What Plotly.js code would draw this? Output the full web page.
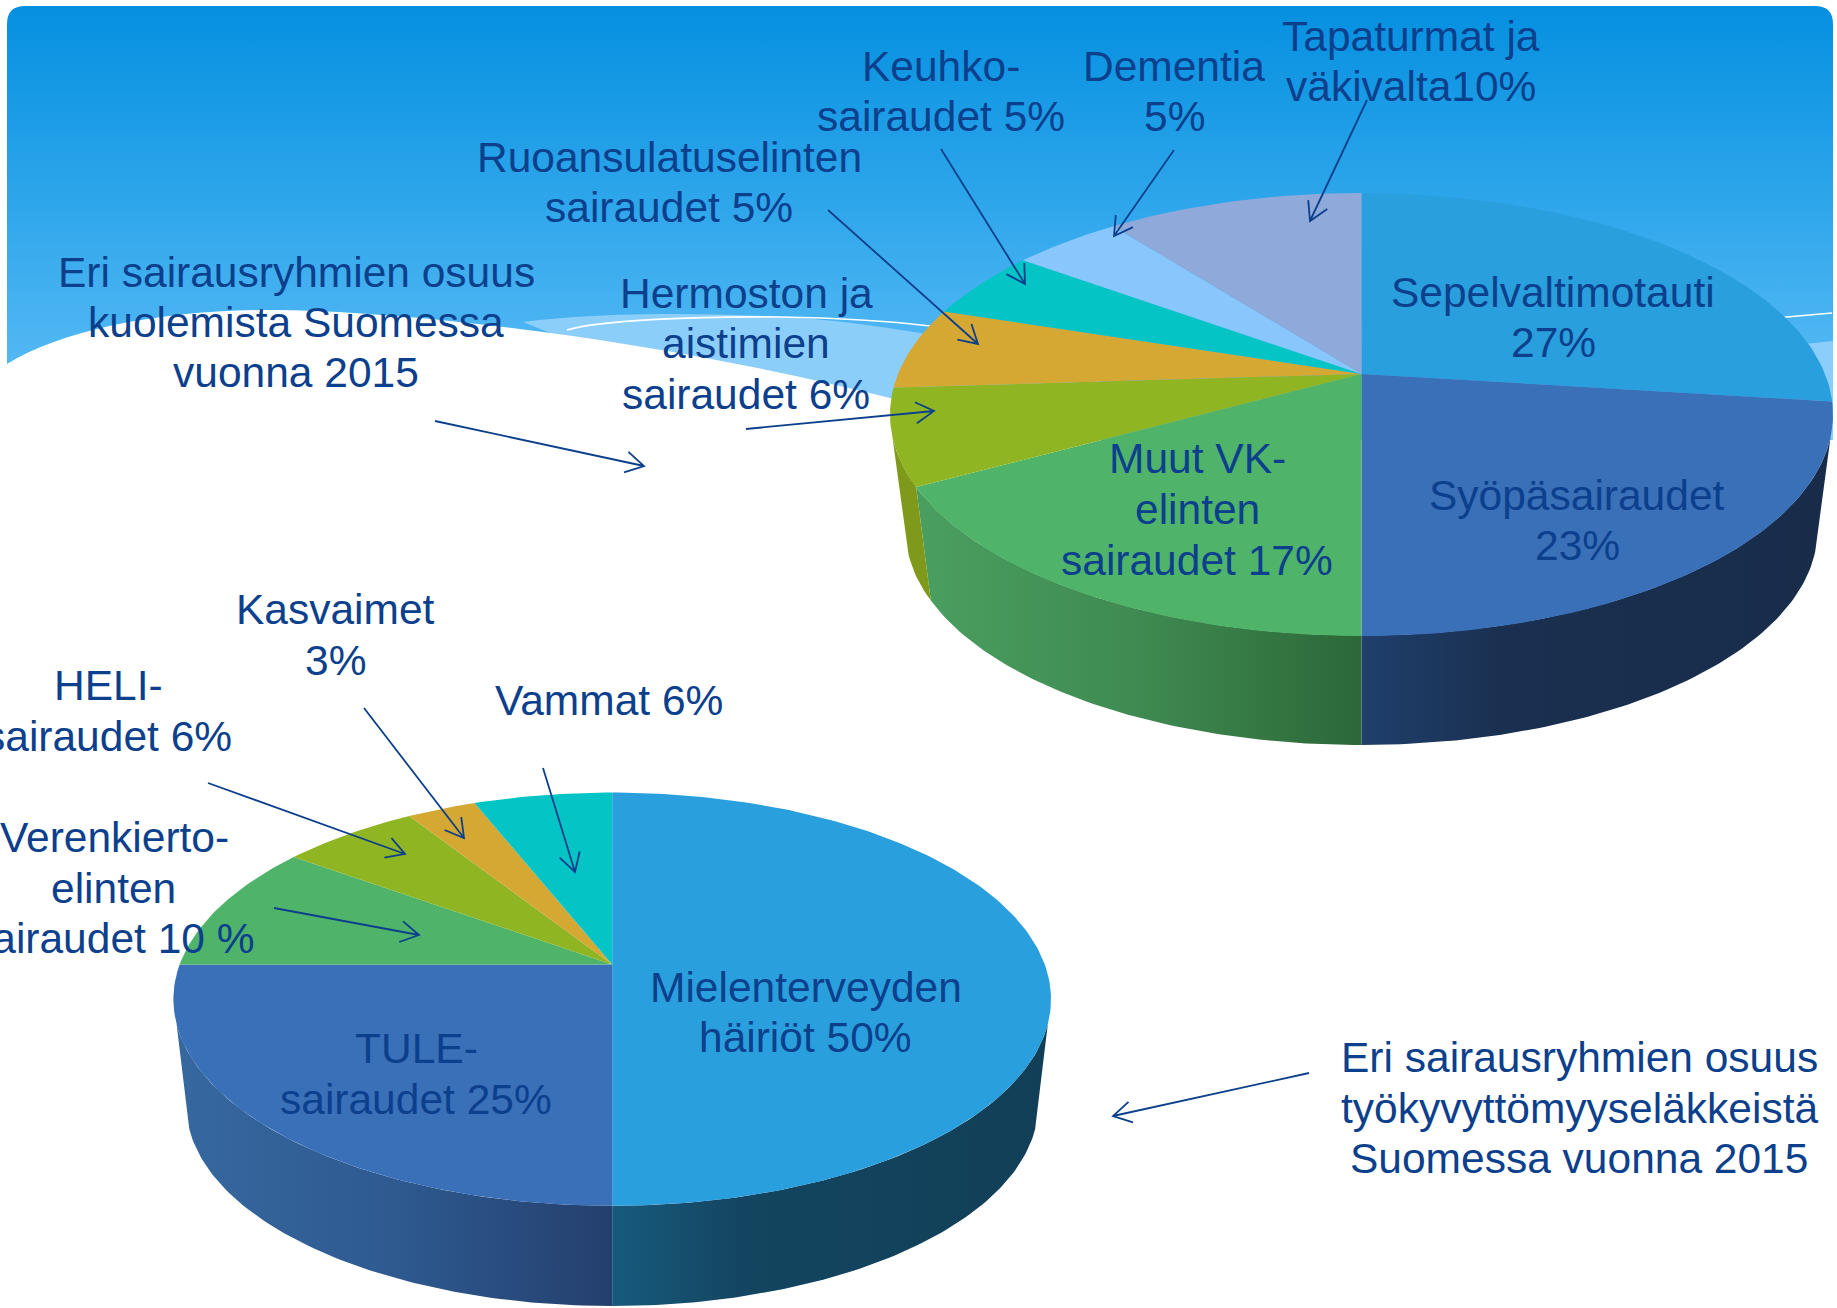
<!DOCTYPE html>
<html><head><meta charset="utf-8">
<script src="https://cdn.plot.ly/plotly-3.0.1.min.js"></script>
<style>html,body{margin:0;padding:0;background:#fff}#chart{width:1837px;height:1308px}</style>
</head><body><div id="chart"></div>
<script>
// ---- data (share of each slice, clockwise from 12 o'clock) ----
const deathCategories = ["Sepelvaltimotauti","Syöpäsairaudet","Muut VK-elinten sairaudet","Hermoston ja aistimien sairaudet","Ruoansulatuselinten sairaudet","Keuhkosairaudet","Dementia","Tapaturmat ja väkivalta"];
const deathValues = [27,23,17,7,6,5,4.5,10.5];
const deathTop = ["#2a9fdd","#3a70b8","#4fb46a","#8fb522","#d5a733","#04c4c5","#88c6fb","#8ea9da"];
const deathWall = [null,["#1f3f6c","#1a3050","#182c4a"],["#4a9f60","#3f8a52","#2c6838"],["#7f9a1a","#7f9a1a","#7f9a1a"],null,null,null,null];

const pensionCategories = ["Mielenterveyden häiriöt","TULE-sairaudet","Verenkiertoelinten sairaudet","HELI-sairaudet","Kasvaimet","Vammat"];
const pensionValues = [50,25,10,6,3,6];
const pensionTop = ["#2a9fdd","#3a70b8","#4fb46a","#8fb522","#d5a733","#04c4c5"];
const pensionWall = [["#175a7d","#134560","#123f58"],["#36689f","#2e5a90","#243f6e"],null,null,null,null];

// ---- text lines: [text, x, y, anchor] ----
const labelLines = [
 ["Tapaturmat ja",1411,36,"center"],["väkivalta10%",1411,86,"center"],
 ["Keuhko-",941,66,"center"],["sairaudet 5%",941,116,"center"],
 ["Dementia",1174,66,"center"],["5%",1174,116,"center"],
 ["Ruoansulatuselinten",669,157,"center"],["sairaudet 5%",669,207,"center"],
 ["Eri sairausryhmien osuus",296,272,"center"],["kuolemista Suomessa",296,322,"center"],["vuonna 2015",296,372,"center"],
 ["Hermoston ja",746,293,"center"],["aistimien",746,343,"center"],["sairaudet 6%",746,394,"center"],
 ["Sepelvaltimotauti",1553,292,"center"],["27%",1553,342,"center"],
 ["Syöpäsairaudet",1577,495,"center"],["23%",1577,545,"center"],
 ["Muut VK-",1197,458,"center"],["elinten",1197,509,"center"],["sairaudet 17%",1197,560,"center"],
 ["Kasvaimet",335,609,"center"],["3%",335,660,"center"],
 ["HELI-",108,685,"center"],["sairaudet 6%",234,736,"right"],
 ["Vammat 6%",609,700,"center"],
 ["Verenkierto-",231,837,"right"],["elinten",113,888,"center"],["sairaudet 10 %",257,938,"right"],
 ["Mielenterveyden",806,987,"center"],["häiriöt 50%",805,1037,"center"],
 ["TULE-",416,1048,"center"],["sairaudet 25%",416,1099,"center"],
 ["Eri sairausryhmien osuus",1579,1057,"center"],["työkyvyttömyyseläkkeistä",1579,1108,"center"],["Suomessa vuonna 2015",1579,1158,"center"]
];
// ---- callout arrows: [fromX, fromY, toX, toY] ----
const arrows = [
 [1367,100,1310,221],[1174,150,1114,236],[941,149,1025,284],[828,210,978,344],[746,429,934,411],
 [435,421,644,466],[364,708,464,838],[208,783,405,854],[543,768,575,872],[274,908,419,935],[1309,1073,1113,1116]
];
const TEXT_COLOR = "#0c3f8c";

// ---- geometry of the two tilted discs ----
const deathDisc = {cx:1361.5,cy:414.5,rx:471.5,ry:221,apexY:374,bottom:636,rxb:456,cyb:530,ryb:215,s0:0.1};
const pensionDisc = {cx:612.2,cy:999.2,rx:438.8,ry:206.6,apexY:964.5,bottom:1205.8,rxb:426,cyb:1105,ryb:201,s0:0.12};

function projector(d){
  const up=d.apexY-(2*d.cy-d.bottom), down=d.bottom-d.apexY;
  const q=down/up, k=(q-1)/(q+1), b=down*(1-k);
  // radial scale so the projected circle reaches the ellipse's half-width at apex height
  const rr=d.rx*Math.sqrt(1-Math.pow((d.apexY-d.cy)/d.ry,2));
  return th=>{const X=Math.sin(th),Y=-Math.cos(th),w=1-k*Y;return [d.cx+rr*X/w,d.apexY+b*Y/w];};
}
function discTraces(d,names,values,topColors,wallColors){
  const total=values.reduce((a,b)=>a+b,0), proj=projector(d), out=[], tops=[];
  const t0=Math.asin(d.s0), t1=Math.PI-t0;
  let acc=0;
  values.forEach((v,i)=>{
    const a=acc/total*2*Math.PI, e=(acc+v)/total*2*Math.PI; acc+=v;
    const n=Math.max(4,Math.ceil((e-a)/(Math.PI/180)));
    const xs=[d.cx],ys=[d.apexY];
    for(let j=0;j<=n;j++){const p=proj(a+(e-a)*j/n);xs.push(p[0]);ys.push(p[1]);}
    xs.push(d.cx);ys.push(d.apexY);
    tops.push({type:"scatter",mode:"lines",x:xs,y:ys,fill:"toself",fillcolor:topColors[i],line:{width:0,color:topColors[i]},name:names[i]+" "+v+"%",hoverinfo:"name",showlegend:false});
    if(wallColors[i]){
      const tp=th=>{const p=proj(th);let t=Math.atan2((p[1]-d.cy)/d.ry,(p[0]-d.cx)/d.rx);if(t<-Math.PI/2-1e-6)t+=2*Math.PI;return t;};
      const ta=Math.max(t0,tp(a)), te=Math.min(t1,e>=2*Math.PI-1e-9?t1:tp(e));
      if(te>ta){
        const m=Math.ceil((te-ta)/(Math.PI/180)),wx=[],wy=[];
        for(let j=0;j<=m;j++){const t=ta+(te-ta)*j/m;wx.push(d.cx+d.rx*Math.cos(t));wy.push(d.cy+d.ry*Math.sin(t));}
        for(let j=m;j>=0;j--){const t=ta+(te-ta)*j/m;wx.push(d.cx+d.rxb*Math.cos(t));wy.push(d.cyb+d.ryb*Math.sin(t));}
        wx.push(wx[0]);wy.push(wy[0]);
        const c=wallColors[i];
        const leftSide=(ta+te)/2>Math.PI/2;
        const scale=leftSide?[[0,c[0]],[0.5,c[1]],[1,c[2]]]:[[0,c[0]],[0.3,c[1]],[1,c[2]]];
        out.push({type:"scatter",mode:"lines",x:wx,y:wy,fill:"toself",fillgradient:{type:"horizontal",colorscale:scale},line:{width:0,color:c[1]},hoverinfo:"skip",showlegend:false});
      }
    }
  });
  return out.concat(tops);
}
function arrowPath(a){
  const [x0,y0,x1,y1]=a, ang=Math.atan2(y1-y0,x1-x0), L=21, sp=Math.PI/6;
  const ax=x1-L*Math.cos(ang-sp), ay=y1-L*Math.sin(ang-sp), bx=x1-L*Math.cos(ang+sp), by=y1-L*Math.sin(ang+sp);
  return `M${x0},${y0}L${x1},${y1}M${ax},${ay}L${x1},${y1}L${bx},${by}`;
}
// ---- slide background (gradient header with a white wave) ----
const bgSvg = `<svg xmlns="http://www.w3.org/2000/svg" width="1837" height="1308" viewBox="0 0 1837 1308">
<defs><linearGradient id="g" x1="0" y1="6" x2="0" y2="400" gradientUnits="userSpaceOnUse"><stop offset="0" stop-color="#0590e0"/><stop offset="0.5" stop-color="#2ea6eb"/><stop offset="1" stop-color="#5cbcf6"/></linearGradient></defs>
<rect width="1837" height="1308" fill="#fff"/>
<path d="M7,24 Q7,6 25,6 L1815,6 Q1833,6 1833,24 L1833,460 L7,460 Z" fill="url(#g)"/>
<path d="M523,322 C600,312 720,312 813,319 C900,326 1000,350 1100,360 L1100,470 L890,470 Z" fill="#8ccefa"/>
<path d="M1805,344 L1833,341 L1833,470 L1805,470 Z" fill="#8ccefa"/>
<path d="M7,364 C70,325 190,305 316,311 C480,318 700,350 890,398 L1000,440 L1833,440 L1837,440 L1837,1308 L0,1308 L0,364 Z" fill="#fff"/>
<path d="M567,330 C600,320 700,316 780,317 C840,318 880,320 930,326" fill="none" stroke="#fff" stroke-width="1.6"/>
<path d="M1775,318 L1832,313" fill="none" stroke="#fff" stroke-width="1.6"/>
</svg>`;

const traces = discTraces(deathDisc,deathCategories,deathValues,deathTop,deathWall)
  .concat(discTraces(pensionDisc,pensionCategories,pensionValues,pensionTop,pensionWall));

const layout = {
  width:1837,height:1308,margin:{l:0,r:0,t:0,b:0,pad:0},
  paper_bgcolor:"rgba(0,0,0,0)",plot_bgcolor:"rgba(0,0,0,0)",showlegend:false,
  xaxis:{range:[0,1837],visible:false,fixedrange:true},
  yaxis:{range:[1308,0],visible:false,fixedrange:true},
  images:[{source:"data:image/svg+xml;charset=utf-8,"+encodeURIComponent(bgSvg),xref:"paper",yref:"paper",x:0,y:1,sizex:1,sizey:1,xanchor:"left",yanchor:"top",sizing:"stretch",layer:"below"}],
  shapes:arrows.map(a=>({type:"path",path:arrowPath(a),xref:"x",yref:"y",line:{color:TEXT_COLOR,width:1.8},layer:"above"})),
  annotations:labelLines.map(l=>({text:l[0],x:l[1],y:l[2],xref:"x",yref:"y",xanchor:l[3],yanchor:"middle",showarrow:false,align:l[3],
     font:{family:"Liberation Sans, Arial, sans-serif",size:42.5,color:TEXT_COLOR}}))
};
Plotly.newPlot("chart",traces,layout,{displayModeBar:false,staticPlot:true});
</script></body></html>
